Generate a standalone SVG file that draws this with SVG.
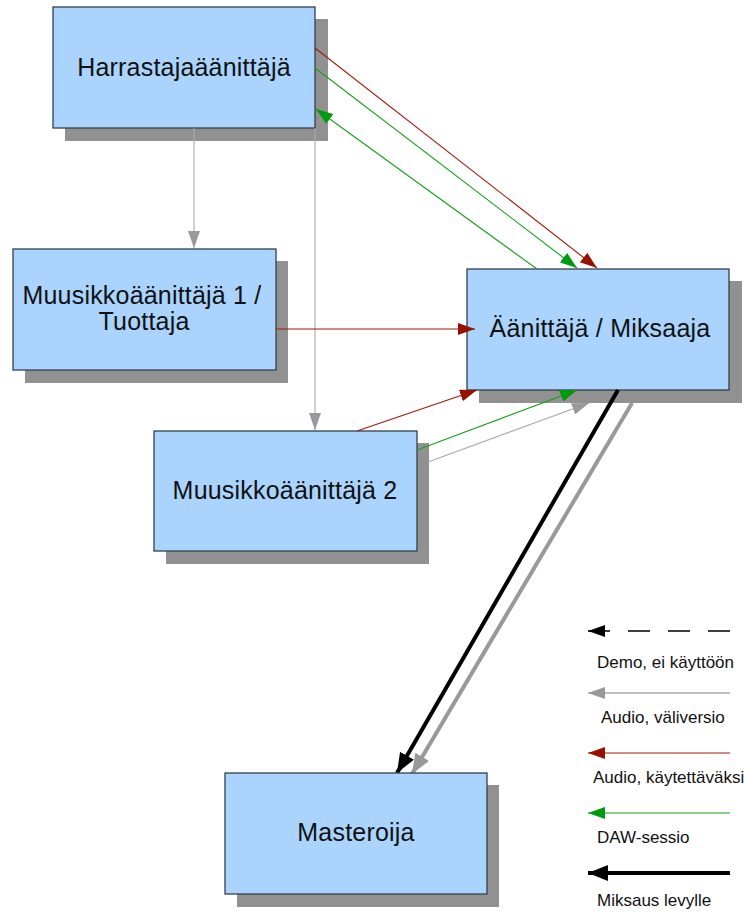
<svg xmlns="http://www.w3.org/2000/svg" width="744" height="919" viewBox="0 0 744 919">
<style>
.shadow{fill:#919191}
.box{fill:#aad4fe;stroke:#34404c;stroke-width:1.3}
.lbl{font-family:"Liberation Sans",Arial,Helvetica,sans-serif;font-size:25px;letter-spacing:0.2px;fill:#111;text-anchor:middle}
.leg{font-family:"Liberation Sans",Arial,Helvetica,sans-serif;font-size:17px;fill:#111}
.c{fill:none;stroke-width:1.1}
.red{stroke:#a01a0c}
.grn{stroke:#16a01a}
.gry{stroke:#aaaaaa}
</style>
<defs>
<marker id="aR" markerUnits="userSpaceOnUse" markerWidth="17" markerHeight="12" refX="17" refY="6" orient="auto"><path d="M0,0 L17,6 L0,12 z" fill="#990f00"/></marker>
<marker id="aG" markerUnits="userSpaceOnUse" markerWidth="17" markerHeight="12" refX="17" refY="6" orient="auto"><path d="M0,0 L17,6 L0,12 z" fill="#009a0e"/></marker>
<marker id="aY" markerUnits="userSpaceOnUse" markerWidth="17" markerHeight="12" refX="17" refY="6" orient="auto"><path d="M0,0 L17,6 L0,12 z" fill="#999999"/></marker>
<marker id="aK" markerUnits="userSpaceOnUse" markerWidth="17" markerHeight="12" refX="17" refY="6" orient="auto"><path d="M0,0 L17,6 L0,12 z" fill="#000"/></marker>
<marker id="aKb" markerUnits="userSpaceOnUse" markerWidth="20" markerHeight="16" refX="20" refY="8" orient="auto"><path d="M0,0 L20,8 L0,16 z" fill="#000"/></marker>
<marker id="aYb" markerUnits="userSpaceOnUse" markerWidth="20" markerHeight="16" refX="20" refY="8" orient="auto"><path d="M0,0 L20,8 L0,16 z" fill="#999999"/></marker>
</defs>
<rect width="744" height="919" fill="#fff"/>

<g id="harrastaja">
<rect class="shadow" x="65" y="19" width="263" height="122"/>
<rect class="box" x="53" y="7" width="262" height="121"/>
<text class="lbl" x="184" y="76">Harrastajaäänittäjä</text>
</g>
<g id="muusikko1">
<rect class="shadow" x="25" y="261" width="263" height="122"/>
<rect class="box" x="13" y="249" width="263" height="121"/>
<text class="lbl" x="142" y="304">Muusikkoäänittäjä 1 /</text>
<text class="lbl" x="144" y="330">Tuottaja</text>
</g>
<g id="aanittaja">
<rect class="shadow" x="479" y="281" width="263" height="122"/>
<rect class="box" x="467" y="269" width="262" height="121"/>
<text class="lbl" x="600" y="337">Äänittäjä / Miksaaja</text>
</g>
<g id="muusikko2">
<rect class="shadow" x="166" y="443" width="263" height="121"/>
<rect class="box" x="154" y="431" width="263" height="120"/>
<text class="lbl" x="285" y="499">Muusikkoäänittäjä 2</text>
</g>

<g id="connectors">
<line class="c gry" x1="194" y1="128" x2="194" y2="248" marker-end="url(#aY)"/>
<line class="c gry" x1="315" y1="128" x2="315" y2="430" marker-end="url(#aY)"/>
<line class="c red" x1="315" y1="48" x2="597" y2="268" marker-end="url(#aR)"/>
<line class="c grn" x1="315" y1="68" x2="577" y2="268" marker-end="url(#aG)"/>
<line class="c grn" x1="537" y1="269" x2="316" y2="109" marker-end="url(#aG)"/>
<line class="c red" x1="276" y1="329" x2="475" y2="329" marker-end="url(#aR)"/>
<line class="c red" x1="357" y1="431" x2="477" y2="390" marker-end="url(#aR)"/>
<line class="c grn" x1="417" y1="450" x2="577" y2="390" marker-end="url(#aG)"/>
<line class="c gry" x1="428" y1="462" x2="589" y2="403" marker-end="url(#aY)"/>
<line x1="632" y1="403" x2="412" y2="774" stroke="#999" stroke-width="4" marker-end="url(#aYb)"/>
<line x1="618" y1="390" x2="397" y2="773" stroke="#000" stroke-width="4" marker-end="url(#aKb)"/>
</g>

<g id="masteroija">
<rect class="shadow" x="237" y="785" width="262" height="122"/>
<rect class="box" x="225" y="773" width="262" height="121"/>
<text class="lbl" x="356" y="841">Masteroija</text>
</g>

<g id="legend">
<line x1="730" y1="631" x2="588" y2="631" stroke="#000" stroke-width="1.3" stroke-dasharray="22 18" marker-end="url(#aK)"/>
<text class="leg" x="597" y="668">Demo, ei käyttöön</text>
<line x1="730" y1="693" x2="588" y2="693" stroke="#aaa" stroke-width="1.3" marker-end="url(#aY)"/>
<text class="leg" x="601" y="723">Audio, väliversio</text>
<line x1="730" y1="753" x2="588" y2="753" stroke="#a01a0c" stroke-width="1.2" marker-end="url(#aR)"/>
<text class="leg" x="593" y="783">Audio, käytettäväksi</text>
<line x1="730" y1="813" x2="588" y2="813" stroke="#16a01a" stroke-width="1.2" marker-end="url(#aG)"/>
<text class="leg" x="597" y="843">DAW-sessio</text>
<line x1="730" y1="873" x2="588" y2="873" stroke="#000" stroke-width="4" marker-end="url(#aKb)"/>
<text class="leg" x="597" y="906">Miksaus levylle</text>
</g>
</svg>
